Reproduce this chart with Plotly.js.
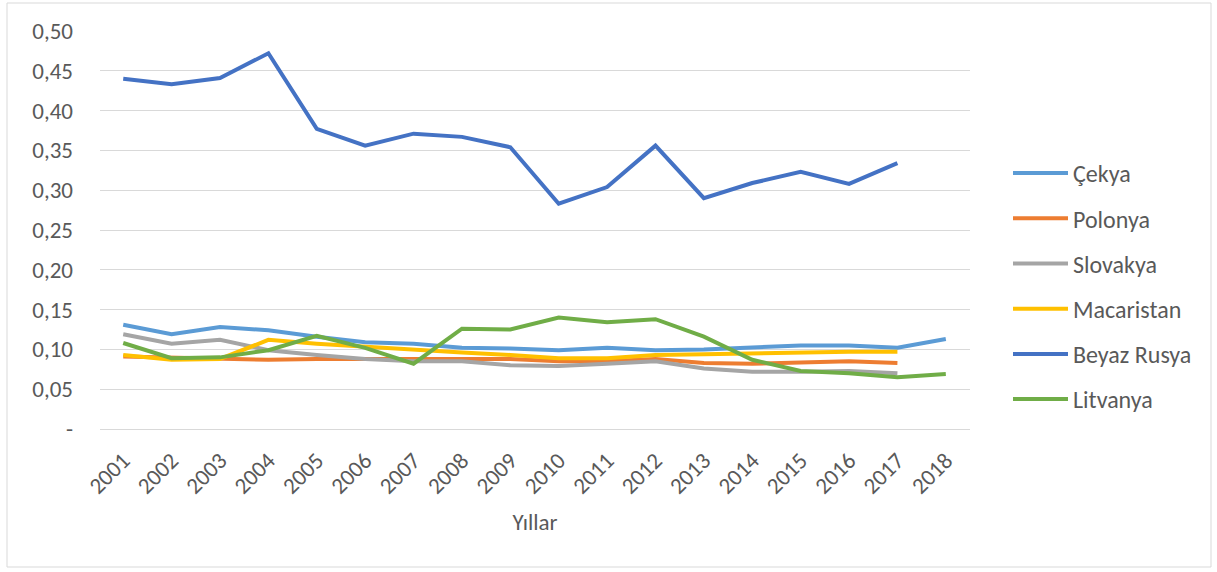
<!DOCTYPE html>
<html>
<head>
<meta charset="utf-8">
<script src="https://cdn.plot.ly/plotly-3.0.1.min.js"></script>
<style>
html,body{margin:0;padding:0;background:#fff;}
#chart{width:1217px;height:572px;}
</style>
</head>
<body>
<div id="chart"></div>
<script>
const years = ["2001","2002","2003","2004","2005","2006","2007","2008","2009","2010","2011","2012","2013","2014","2015","2016","2017","2018"];
const cekya      = [0.131,0.119,0.128,0.124,0.116,0.109,0.107,0.102,0.101,0.099,0.102,0.099,0.100,0.102,0.105,0.105,0.102,0.113];
const polonya    = [0.091,0.090,0.089,0.087,0.088,0.088,0.087,0.087,0.088,0.085,0.085,0.088,0.083,0.082,0.083,0.085,0.083,null];
const slovakya   = [0.119,0.107,0.112,0.099,0.093,0.088,0.085,0.085,0.080,0.079,0.082,0.085,0.076,0.072,0.072,0.073,0.070,null];
const macaristan = [0.093,0.087,0.088,0.112,0.107,0.103,0.099,0.096,0.093,0.089,0.089,0.093,0.094,0.095,0.097,0.097,0.097,null];
const beyazRusya = [0.440,0.433,0.441,0.472,0.377,0.356,0.371,0.367,0.354,0.283,0.304,0.356,0.290,0.309,0.323,0.308,0.334,null];
const litvanya   = [0.108,0.089,0.090,0.099,0.117,0.102,0.082,0.126,0.125,0.140,0.134,0.138,0.116,0.087,0.073,0.070,0.065,0.069];
const seriesNames = ["Çekya","Polonya","Slovakya","Macaristan","Beyaz Rusya","Litvanya"];
const yTickVals = [0,0.05,0.10,0.15,0.20,0.25,0.30,0.35,0.40,0.45,0.50];
const yTickText = ["-","0,05","0,10","0,15","0,20","0,25","0,30","0,35","0,40","0,45","0,50"];

const data = [cekya, polonya, slovakya, macaristan, beyazRusya, litvanya];
const colors = ["#5B9BD5","#ED7D31","#A5A5A5","#FFC000","#4472C4","#70AD47"];

const traces = data.map((vals,i)=>({
  type:"scatter", mode:"lines",
  x: years, y: vals, name: seriesNames[i],
  legendgroup: "g"+i,
  line:{color:colors[i], width:4, shape:"linear"},
  connectgaps:false,
  hoverinfo:"x+y+name"
}));

const fam = "Carlito, 'Noto Sans', 'Open Sans', sans-serif";
const L=100, R=970, T=31, B=429;
const pw=R-L, ph=B-T;

const layout = {
  width:1217, height:572,
  margin:{l:L, r:1217-R, t:T, b:572-B},
  paper_bgcolor:"#fff", plot_bgcolor:"#fff",
  font: {family:fam, size:23, color:"#595959"},
  showlegend:true,
  legend:{x:(1008-L)/pw, y:(429-151)/ph, xanchor:"left", yanchor:"top",
          font:{family:fam, size:24, color:"#595959"},
          tracegroupgap:11, itemwidth:55, bgcolor:"rgba(0,0,0,0)"},
  xaxis:{type:"category", range:[-0.48,17.5], showgrid:false, zeroline:false,
         showline:true, linecolor:"#d9d9d9", linewidth:1,
         tickangle:-45, ticks:"", ticklabelstandoff:8,
         tickfont:{family:fam,size:23,color:"#595959"},
         title:{text:"Yıllar", font:{family:fam,size:23,color:"#595959"}, standoff:15}},
  yaxis:{range:[0,0.5], tickvals:yTickVals, ticktext:yTickText,
         showgrid:true, gridcolor:"#d9d9d9", gridwidth:1, zeroline:false,
         showline:false, ticks:"", ticklen:0, ticklabelstandoff:26,
         tickfont:{family:fam,size:23,color:"#595959"}},
  shapes:[{type:"rect", xref:"paper", yref:"paper",
           x0:(7-L)/pw, x1:(1211-L)/pw, y0:(B-567)/ph, y1:(B-3)/ph,
           line:{color:"#d9d9d9", width:1}, fillcolor:"rgba(0,0,0,0)", layer:"below"}]
};

Plotly.newPlot("chart", traces, layout, {displayModeBar:false, staticPlot:true});
</script>
</body>
</html>
